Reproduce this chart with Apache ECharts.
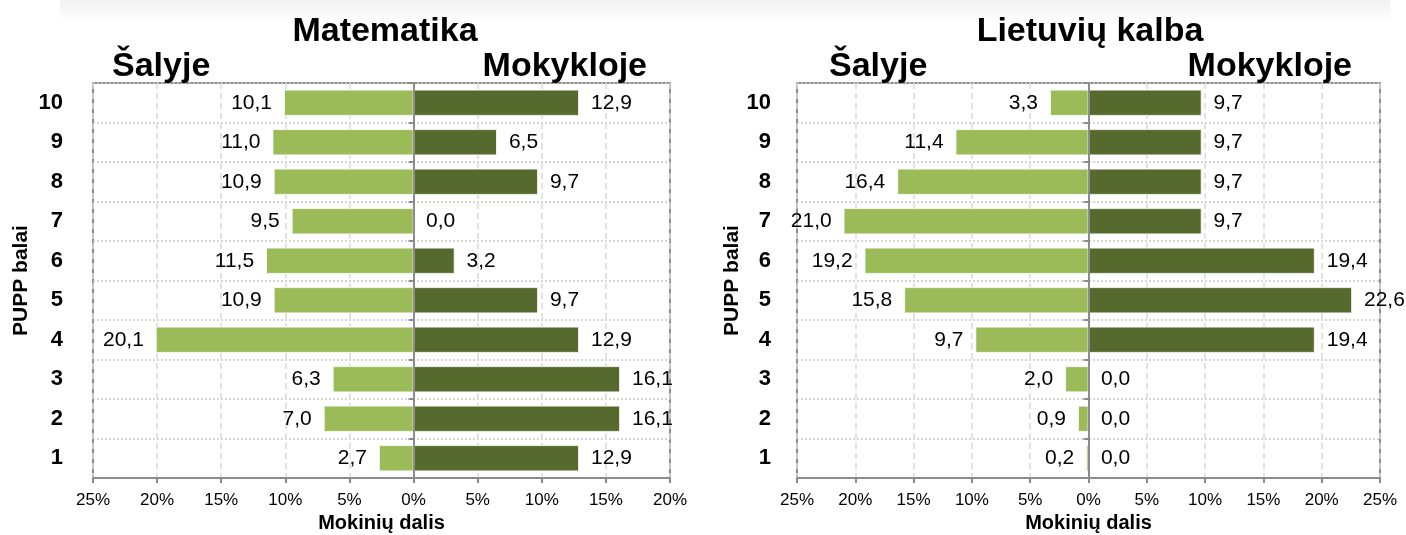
<!DOCTYPE html>
<html>
<head>
<meta charset="utf-8">
<script src="https://cdn.jsdelivr.net/npm/echarts@6/dist/echarts.min.js"></script>
<style>
  html, body { margin: 0; padding: 0; background: #fff; }
  #chart { width: 1406px; height: 535px; }
</style>
</head>
<body>
<div id="chart"></div>
<script>
// PUPP balai, from 1 (bottom) to 10 (top)
const categories = ['1', '2', '3', '4', '5', '6', '7', '8', '9', '10'];

const mathCountry = [2.7, 7.0, 6.3, 20.1, 10.9, 11.5, 9.5, 10.9, 11.0, 10.1];
const mathSchool = [12.9, 16.1, 16.1, 12.9, 9.7, 3.2, 0.0, 9.7, 6.5, 12.9];
const ltCountry = [0.2, 0.9, 2.0, 9.7, 15.8, 19.2, 21.0, 16.4, 11.4, 3.3];
const ltSchool = [0.0, 0.0, 0.0, 19.4, 22.6, 19.4, 9.7, 9.7, 9.7, 9.7];

const FONT = '"Liberation Sans", Arial, sans-serif';
const lightGreen = '#9bbb59';
const darkGreen = '#566a2e';
const axisGray = '#8c8c8c';

const fmt = v => Math.abs(v).toFixed(1).replace('.', ',');

const chart = echarts.init(document.getElementById('chart'));

function xAxisFor(gridIndex, min, max) {
  return {
    type: 'value', gridIndex, min, max, interval: 5,
    name: 'Mokinių dalis', nameLocation: 'middle', nameGap: 34,
    nameTextStyle: {fontFamily: FONT, fontWeight: 'bold', fontSize: 20, color: '#000'},
    axisLine: {show: true, onZero: false, lineStyle: {color: axisGray, width: 2}},
    axisTick: {show: true, length: 5, lineStyle: {color: axisGray, width: 2}},
    axisLabel: {
      fontFamily: FONT, fontSize: 17, color: '#000', margin: 14,
      formatter: v => Math.abs(v) + '%'
    },
    splitLine: {show: true, lineStyle: {color: '#d9d9d9', type: [6, 4], width: 1.5}}
  };
}

function yAxesFor(gridIndex, labelGap, nameGap) {
  return [{
    type: 'category', gridIndex, data: categories, position: 'left',
    name: 'PUPP balai', nameLocation: 'middle', nameGap, nameRotate: 90,
    nameTextStyle: {fontFamily: FONT, fontWeight: 'bold', fontSize: 21, color: '#000'},
    axisLine: {show: false, onZero: false}, axisTick: {show: false},
    axisLabel: {fontFamily: FONT, fontWeight: 'bold', fontSize: 22, color: '#000', margin: labelGap},
    splitLine: {show: true, lineStyle: {color: '#c8c8c8', type: [2, 2], width: 1.5}}
  }, {
    type: 'category', gridIndex, data: categories, position: 'left', z: 5,
    axisLine: {show: true, onZero: true, lineStyle: {color: axisGray, width: 2}},
    axisTick: {show: true, length: 5, lineStyle: {color: axisGray, width: 2}},
    axisLabel: {show: false},
    splitLine: {show: false}
  }];
}

function barSeries(xi, yi, data, color, side) {
  return {
    type: 'bar', xAxisIndex: xi, yAxisIndex: yi,
    data: side === 'left' ? data.map(v => -v) : data,
    barWidth: '66%', barGap: '-100%',
    itemStyle: {color, borderColor: '#ffffff', borderWidth: 0.8},
    label: {
      show: true, position: side, distance: 12,
      fontFamily: FONT, fontSize: 21, color: '#000',
      formatter: p => fmt(p.value)
    },
    z: 3
  };
}

const titleStyle = {fontFamily: FONT, fontWeight: 'bold', fontSize: 34, color: '#000'};

chart.setOption({
  animation: false,
  backgroundColor: '#fff',
  graphic: [{
    type: 'rect', left: 60, top: 0, z: -1,
    shape: {width: 1330, height: 22},
    style: {
      fill: new echarts.graphic.LinearGradient(0, 0, 0, 1, [
        {offset: 0, color: '#f1f1f1'}, {offset: 1, color: '#ffffff'}
      ])
    }
  }],
  title: [
    {text: 'Matematika', left: 380, top: 10, textAlign: 'center', textStyle: titleStyle},
    {text: 'Šalyje', left: 107, top: 45, textStyle: titleStyle},
    {text: 'Mokykloje', right: 1406 - 652, top: 45, textStyle: titleStyle},
    {text: 'Lietuvių kalba', left: 1085, top: 10, textAlign: 'center', textStyle: titleStyle},
    {text: 'Šalyje', left: 824, top: 45, textStyle: titleStyle},
    {text: 'Mokykloje', right: 1406 - 1357, top: 45, textStyle: titleStyle}
  ],
  grid: [
    {left: 93, top: 83, width: 577, height: 395, outerBoundsMode: 'none', show: true, borderColor: axisGray, borderWidth: 2, backgroundColor: '#fff'},
    {left: 797, top: 83, width: 583, height: 395, outerBoundsMode: 'none', show: true, borderColor: axisGray, borderWidth: 2, backgroundColor: '#fff'}
  ],
  xAxis: [xAxisFor(0, -25, 20), xAxisFor(1, -25, 25)],
  yAxis: [...yAxesFor(0, 30, 61), ...yAxesFor(1, 26, 48)],
  series: [
    barSeries(0, 1, mathCountry, lightGreen, 'left'),
    barSeries(0, 1, mathSchool, darkGreen, 'right'),
    barSeries(1, 3, ltCountry, lightGreen, 'left'),
    barSeries(1, 3, ltSchool, darkGreen, 'right')
  ]
});
</script>
</body>
</html>
